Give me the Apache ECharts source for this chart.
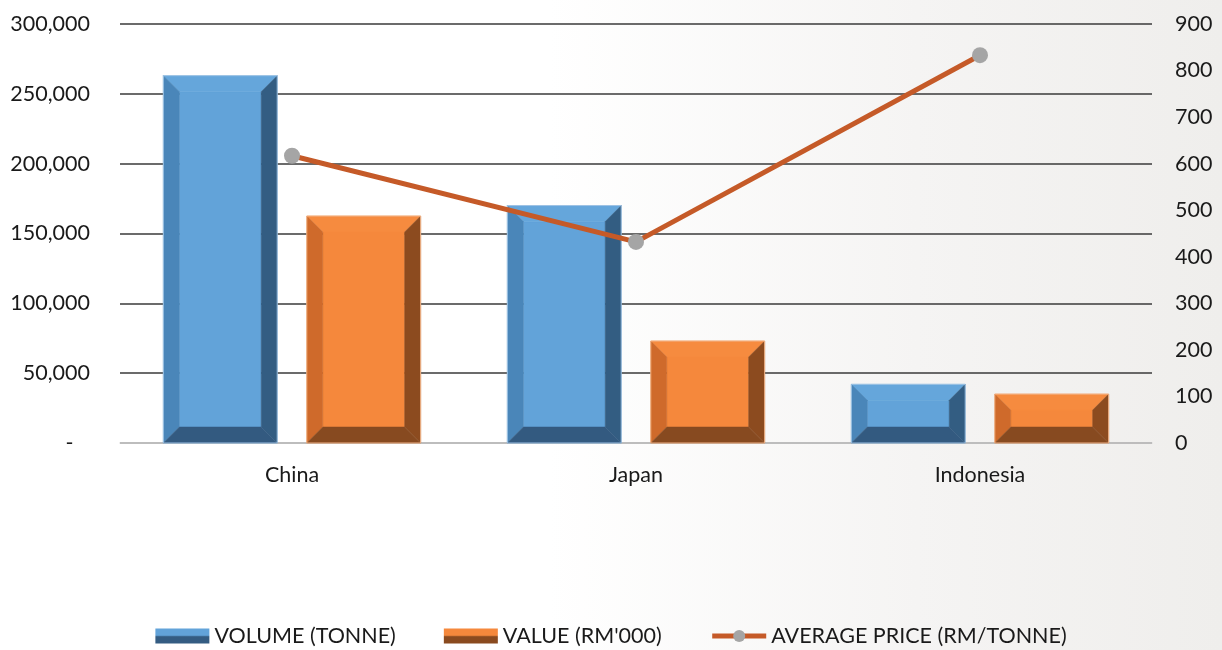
<!DOCTYPE html>
<html>
<head>
<meta charset="utf-8">
<script src="https://cdn.jsdelivr.net/npm/echarts@6/dist/echarts.min.js"></script>
<style>html,body{margin:0;padding:0;background:#fff}#c{width:1222px;height:650px}</style>
</head>
<body>
<div id="c"></div>
<script>
const categories = ['China', 'Japan', 'Indonesia'];
const volumeTonne = [263000, 170000, 42000];
const valueRM000 = [162500, 73000, 35000];
const avgPrice = [617, 432, 833];
const leftTicks = [0, 50000, 100000, 150000, 200000, 250000, 300000];
const rightTicks = [0, 100, 200, 300, 400, 500, 600, 700, 800, 900];

const FONT = 'Lato';
const chart = echarts.init(document.getElementById('c'));

function bevelRender(offsetFrac, widthFrac, pal) {
  return function (params, api) {
    const idx = api.value(0);
    const v = api.value(1);
    const top = api.coord([idx, v]);
    const base = api.coord([idx, 0]);
    const band = api.size([1, 0])[0];
    const w = band * widthFrac;
    const cx = top[0] + band * offsetFrac;
    const x0 = cx - w / 2, x1 = cx + w / 2;
    const y0 = top[1], y1 = base[1];
    const h = y1 - y0;
    const b = Math.min(16, h / 2, w / 2);
    const poly = (pts, fill) => ({ type: 'polygon', shape: { points: pts }, style: { fill: fill, stroke: fill, lineWidth: 0.5 } });
    return {
      type: 'group',
      children: [
        poly([[x0 + b, y0 + b], [x1 - b, y0 + b], [x1 - b, y1 - b], [x0 + b, y1 - b]], pal.face),
        poly([[x0, y0], [x1, y0], [x1 - b, y0 + b], [x0 + b, y0 + b]], pal.top),
        poly([[x0, y0], [x0 + b, y0 + b], [x0 + b, y1 - b], [x0, y1]], pal.left),
        poly([[x1, y0], [x1, y1], [x1 - b, y1 - b], [x1 - b, y0 + b]], pal.right),
        poly([[x0, y1], [x0 + b, y1 - b], [x1 - b, y1 - b], [x1, y1]], pal.bottom),
        { type: 'rect', shape: { x: x0, y: y0, width: w, height: h }, style: { fill: 'none', stroke: pal.edge, lineWidth: 1 } }
      ]
    };
  };
}

const bluePal = { face: '#62a3d9', top: '#65a6db', left: '#4a86b9', right: '#335d82', bottom: '#335a80', edge: '#9ec3e4' };
const orangePal = { face: '#f5883c', top: '#f68b3f', left: '#cf6a2b', right: '#8c4b1f', bottom: '#874a20', edge: '#f2b488' };

const legendGrad = (light, dark) => new echarts.graphic.LinearGradient(0, 0, 0, 1, [
  { offset: 0, color: light }, { offset: 0.45, color: light }, { offset: 0.55, color: dark }, { offset: 1, color: dark }
]);

chart.setOption({
  backgroundColor: new echarts.graphic.LinearGradient(0, 0, 1, 0, [
    { offset: 0, color: '#ffffff' }, { offset: 0.45, color: '#ffffff' },
    { offset: 0.75, color: '#f5f4f3' }, { offset: 1, color: '#efeeec' }
  ]),
  animation: false,
  textStyle: { fontFamily: FONT },
  grid: { left: 120, right: 70, top: 24, bottom: 207 },
  legend: {
    bottom: -2,
    left: 'center',
    itemWidth: 54,
    itemHeight: 15,
    itemGap: 48,
    textStyle: { fontFamily: FONT, fontSize: 21.5, color: '#1a1a1a' },
    data: [
      { name: 'VOLUME (TONNE)', icon: 'rect', itemStyle: { color: legendGrad('#62a3d9', '#345c82') } },
      { name: "VALUE (RM'000)", icon: 'rect', itemStyle: { color: legendGrad('#f5883c', '#8a4a1f') } },
      { name: 'AVERAGE PRICE (RM/TONNE)', lineStyle: { width: 5, color: '#c55a28' }, itemStyle: { color: '#a5a5a5' } }
    ]
  },
  xAxis: {
    type: 'category',
    data: categories,
    axisTick: { show: false },
    axisLine: { lineStyle: { color: '#d9d9d9', width: 1.5 } },
    axisLabel: { fontFamily: FONT, fontSize: 21.5, color: '#1a1a1a', margin: 21 }
  },
  yAxis: [
    {
      type: 'value', min: 0, max: 300000, interval: 50000,
      axisLine: { show: false }, axisTick: { show: false },
      splitLine: { lineStyle: { color: '#3a3a3a', width: 1.5 } },
      axisLabel: {
        fontFamily: FONT, fontSize: 21.5, color: '#1a1a1a', margin: 30,
        formatter: v => v === 0 ? '-   ' : v.toLocaleString('en-US')
      }
    },
    {
      type: 'value', min: 0, max: 900, interval: 100,
      axisLine: { show: false }, axisTick: { show: false }, splitLine: { show: false },
      axisLabel: { fontFamily: FONT, fontSize: 21.5, color: '#1a1a1a', margin: 23 }
    }
  ],
  series: [
    {
      name: 'VOLUME (TONNE)', type: 'custom', yAxisIndex: 0,
      itemStyle: { color: '#62a3d9' },
      renderItem: bevelRender(-0.2085, 0.331, bluePal),
      encode: { x: 0, y: 1 },
      data: categories.map((c, i) => [i, volumeTonne[i]]),
      z: 2
    },
    {
      name: "VALUE (RM'000)", type: 'custom', yAxisIndex: 0,
      itemStyle: { color: '#f5883c' },
      renderItem: bevelRender(0.2085, 0.331, orangePal),
      encode: { x: 0, y: 1 },
      data: categories.map((c, i) => [i, valueRM000[i]]),
      z: 2
    },
    {
      name: 'AVERAGE PRICE (RM/TONNE)', type: 'line', yAxisIndex: 1,
      data: avgPrice,
      symbol: 'circle', symbolSize: 16,
      lineStyle: { color: '#c55a28', width: 5 },
      itemStyle: { color: '#a5a5a5', borderWidth: 0 },
      z: 5
    }
  ]
});
</script>
</body>
</html>
